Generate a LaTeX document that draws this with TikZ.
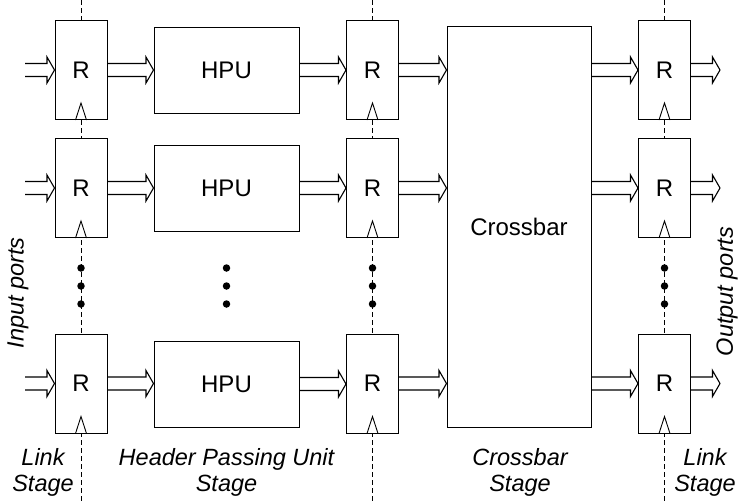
\documentclass[tikz,border=0pt]{standalone}
\usepackage{fontspec}
\setmainfont{Liberation Sans}
\usetikzlibrary{calc}
\begin{document}
\begin{tikzpicture}[x=1pt,y=-1pt,
  font=\fontsize{24}{26}\selectfont,
  reg/.style={draw,fill=white,line width=1pt,minimum width=52pt,minimum height=99pt,inner sep=0pt},
  hpu/.style={draw,fill=white,line width=1pt,minimum width=145pt,minimum height=86pt,inner sep=0pt},
  guide/.style={line width=0.9pt,dash pattern=on 5pt off 3pt},
  dot/.style={circle,fill=black,inner sep=0pt,minimum size=7.5pt},
  lbl/.style={font=\fontsize{23.5}{26}\selectfont\itshape,align=center,inner sep=0pt},
  busline/.style={line width=1.1pt,line join=miter},
  bus/.style={to path={
    let \p1=(\tikztostart), \p2=(\tikztotarget) in
    (\x1,\y1+6.5pt) -- (\x2-7.5pt,\y1+6.5pt) -- (\x2-7.5pt,\y1+13pt) -- (\x2,\y1)
    -- (\x2-7.5pt,\y1-13pt) -- (\x2-7.5pt,\y1-6.5pt) -- (\x1,\y1-6.5pt)}}
]
\useasboundingbox (0,0) rectangle (740,504);

% stage guide lines
\coordinate (t1) at (81,0);   \coordinate (b1) at (81,504);
\coordinate (t2) at (372.5,0); \coordinate (b2) at (372.5,504);
\coordinate (t3) at (664.5,0); \coordinate (b3) at (664.5,504);
\draw[guide] (t1) -- (b1);
\draw[guide] (t2) -- (b2);
\draw[guide] (t3) -- (b3);

% registers
\foreach \c/\x in {1/81,2/372.5,3/664.5}{
  \foreach \r/\y in {1/70,2/188,3/383.5}{
    \node[reg] (r\c\r) at (\x,\y) {R};
    \draw[line width=0.9pt] ([xshift=-5.5pt]r\c\r.south) -- ([yshift=17pt]r\c\r.south) -- ([xshift=5.5pt]r\c\r.south);
  }
}

% HPUs
\node[hpu] (h1) at (226.5,70) {HPU};
\node[hpu] (h2) at (226.5,188) {HPU};
\node[hpu] (h3) at (226.5,384) {HPU};

% crossbar
\node[draw,fill=white,line width=1pt,minimum width=144pt,minimum height=401pt,inner sep=0pt] (xb) at (519,226.5) {Crossbar};

% buses
\foreach \r/\y in {1/70,2/188,3/383.5}{
  \coordinate (in\r) at (25,\y);
  \coordinate (out\r) at (720,\y);
  \coordinate (xi\r) at (xb.west |- r2\r.east);
  \coordinate (xo\r) at (xb.east |- r3\r.west);
  \draw[busline] (in\r) to[bus] (r1\r.west);
  \draw[busline] (r1\r.east) to[bus] (h\r.west);
  \draw[busline] (h\r.east) to[bus] (r2\r.west);
  \draw[busline] (r2\r.east) to[bus] (xi\r);
  \draw[busline] (xo\r) to[bus] (r3\r.west);
  \draw[busline] (r3\r.east) to[bus] (out\r);
}

% ellipsis dots
\foreach \x in {81,226.5,372.5,664.5}{
  \foreach \y in {268,286,304}{
    \node[dot] at (\x,\y) {};
  }
}

% labels
\node[lbl,rotate=90] (inp) at (18,293) {Input ports};
\node[lbl,rotate=90] (outp) at (727,291.5) {Output ports};
\node[lbl] (l1) at (43,472) {Link\\Stage};
\node[lbl] (l2) at (226.5,472) {Header Passing Unit\\Stage};
\node[lbl] (l3) at (520,472) {Crossbar\\Stage};
\node[lbl] (l4) at (705,472) {Link\\Stage};
\end{tikzpicture}
\end{document}
